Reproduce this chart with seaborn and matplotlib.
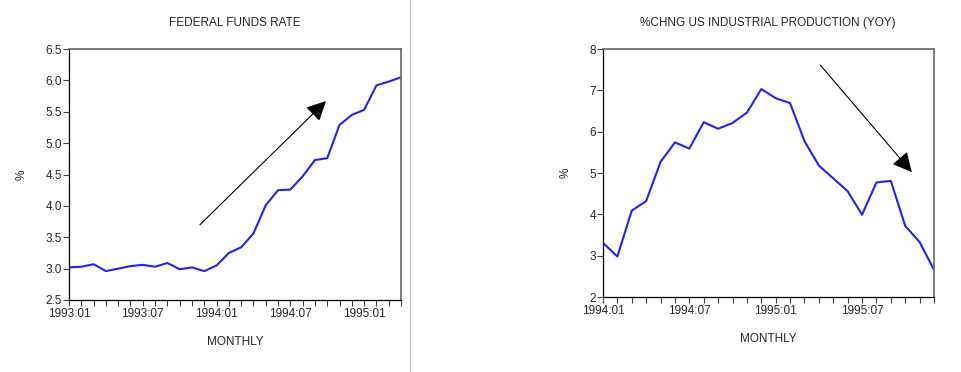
import numpy as np
import pandas as pd
import seaborn as sns
import matplotlib.pyplot as plt
from matplotlib.lines import Line2D

# Federal funds rate, monthly 1993:01 - 1995:04
ff_labels = ['1993:01', '1993:07', '1994:01', '1994:07', '1995:01']
ff_rate = [3.02, 3.03, 3.07, 2.96, 3.00, 3.04, 3.06, 3.03, 3.09, 2.99, 3.02, 2.96,
           3.05, 3.25, 3.34, 3.56, 4.01, 4.25, 4.26, 4.47, 4.73, 4.76, 5.29, 5.45,
           5.53, 5.92, 5.98, 6.05]

# US industrial production % change yoy, monthly 1994:01 - 1995:12
ip_labels = ['1994:01', '1994:07', '1995:01', '1995:07']
ip_chg = [3.31, 2.98, 4.09, 4.32, 5.27, 5.74, 5.59, 6.23, 6.07, 6.21, 6.46, 7.03,
          6.81, 6.69, 5.77, 5.18, 4.87, 4.56, 3.99, 4.77, 4.81, 3.72, 3.33, 2.66]

sns.set_style('ticks')
plt.rcParams['font.family'] = ['Liberation Sans', 'DejaVu Sans']
fs = 8.5
blue = '#2323ee'

fig = plt.figure(figsize=(9.61, 3.72), dpi=100)
W, H = 961, 372


def make_axes(l, t, r, b):
    return fig.add_axes([l / W, 1 - b / H, (r - l) / W, (b - t) / H])


def style(ax, n, labels, ymin, ymax, ystep, fmt):
    ax.set_xlim(0, n - 1)
    ax.set_ylim(ymin, ymax)
    ax.set_xticks(np.arange(0, len(labels) * 6, 6))
    ax.set_xticklabels(labels)
    ax.set_xticks(np.arange(0, n), minor=True)
    yt = np.arange(ymin, ymax + 0.001, ystep)
    ax.set_yticks(yt)
    ax.set_yticklabels([fmt.format(v) for v in yt])
    ax.tick_params(axis='both', which='both', direction='out', length=4,
                   width=0.8, color='#444444', labelsize=fs, pad=1)
    ax.tick_params(axis='x', which='major', pad=2)
    ax.set_xlabel('')
    ax.set_ylabel('')
    for s in ['left', 'bottom']:
        ax.spines[s].set_color('black')
        ax.spines[s].set_linewidth(0.9)
    for s in ['top', 'right']:
        ax.spines[s].set_visible(True)
        ax.spines[s].set_color('#666666')
        ax.spines[s].set_linewidth(1.2)


# left panel
ax1 = make_axes(69, 49, 401, 300)
df1 = pd.DataFrame({'m': np.arange(len(ff_rate)), 'v': ff_rate})
sns.lineplot(data=df1, x='m', y='v', ax=ax1, color=blue, lw=1.5)
style(ax1, len(ff_rate), ff_labels, 2.5, 6.5, 0.5, '{:.1f}')
ax1.annotate('', xy=(20.9, 5.67), xytext=(10.65, 3.70),
             arrowprops=dict(arrowstyle='-|>,head_length=0.8,head_width=0.4',
                             mutation_scale=15, lw=0.8, color='black',
                             shrinkA=0, shrinkB=0))

# right panel
ax2 = make_axes(603, 49, 934, 297)
df2 = pd.DataFrame({'m': np.arange(len(ip_chg)), 'v': ip_chg})
sns.lineplot(data=df2, x='m', y='v', ax=ax2, color=blue, lw=1.5)
style(ax2, len(ip_chg), ip_labels, 2, 8, 1, '{:.0f}')
ax2.annotate('', xy=(21.46, 5.02), xytext=(15.1, 7.61),
             arrowprops=dict(arrowstyle='-|>,head_length=0.8,head_width=0.4',
                             mutation_scale=15, lw=0.8, color='black',
                             shrinkA=0, shrinkB=0))

# titles and labels
fig.text(235 / W, 1 - 23 / H, 'FEDERAL FUNDS RATE', ha='center', va='center', fontsize=fs)
fig.text(768 / W, 1 - 23 / H, '%CHNG US INDUSTRIAL PRODUCTION (YOY)', ha='center', va='center', fontsize=fs)
fig.text(235 / W, 1 - 342 / H, 'MONTHLY', ha='center', va='center', fontsize=fs)
fig.text(768 / W, 1 - 339 / H, 'MONTHLY', ha='center', va='center', fontsize=fs)
fig.text(22 / W, 1 - 175 / H, '%', ha='center', va='center', rotation=90, fontsize=fs)
fig.text(566 / W, 1 - 173 / H, '%', ha='center', va='center', rotation=90, fontsize=fs)

# separator between the two panels
fig.add_artist(Line2D([410 / W, 410 / W], [0, 1], color='#c4c4c4', lw=1))

fig.savefig('out.png', dpi=100)
